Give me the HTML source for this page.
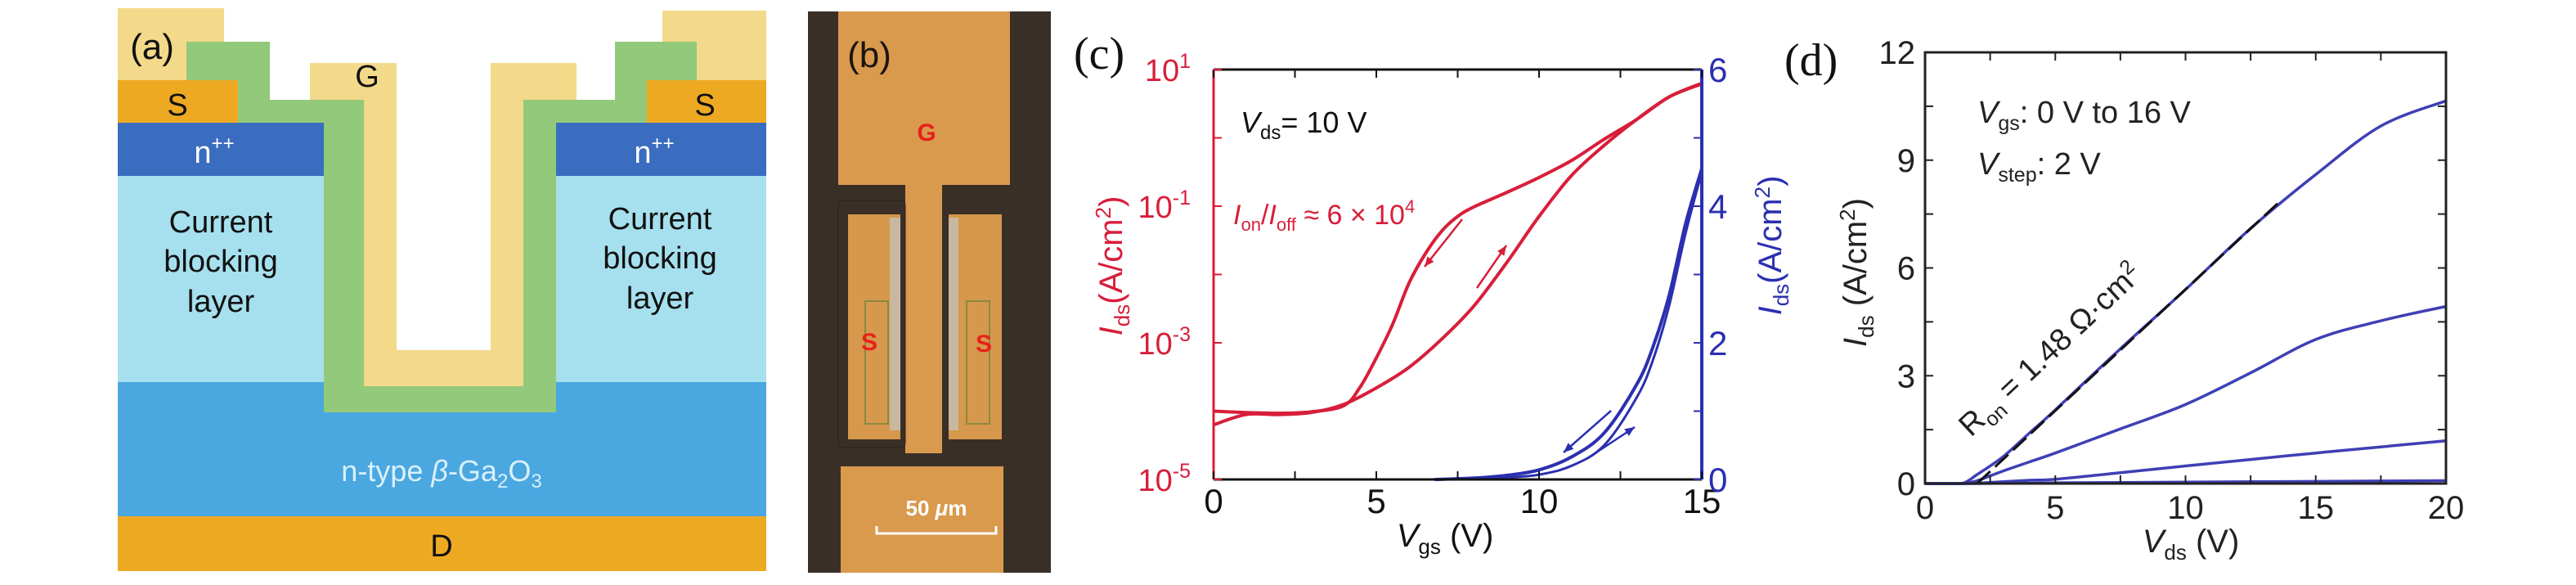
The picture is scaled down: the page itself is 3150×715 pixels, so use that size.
<!DOCTYPE html>
<html><head><meta charset="utf-8">
<style>
html,body{margin:0;padding:0;background:#fff;}
svg{display:block;}
.n{font-family:"Liberation Sans Narrow","Liberation Sans",sans-serif;}
.s{font-family:"Liberation Sans",sans-serif;}
.serif{font-family:"Liberation Serif",serif;}
</style></head>
<body>
<svg id="fig" width="3150" height="715" viewBox="0 0 3150 715" xmlns="http://www.w3.org/2000/svg">
<!-- Panel (a) -->
<g>
  <rect x="144" y="10" width="130" height="90" fill="#f3d98a"/>
  <rect x="810" y="13" width="127" height="87" fill="#f3d98a"/>
  <rect x="228" y="51" width="102" height="99" fill="#93c97a"/>
  <rect x="330" y="122" width="115" height="28" fill="#93c97a"/>
  <rect x="640" y="122" width="112" height="28" fill="#93c97a"/>
  <rect x="752" y="51" width="100" height="99" fill="#93c97a"/>
  <rect x="396" y="122" width="284" height="382" fill="#93c97a"/>
  <polygon points="379,77 485,77 485,428 600,428 600,77 705,77 705,122 640,122 640,472 445,472 445,122 379,122" fill="#f3d98a"/>
  <rect x="485" y="0" width="115" height="428" fill="#ffffff"/>
  <rect x="144" y="98" width="147" height="52" fill="#eea923"/>
  <rect x="791" y="98" width="146" height="52" fill="#eea923"/>
  <rect x="144" y="150" width="252" height="65" fill="#3a6cbf"/>
  <rect x="680" y="150" width="257" height="65" fill="#3a6cbf"/>
  <rect x="144" y="215" width="252" height="252" fill="#a6e0ee"/>
  <rect x="680" y="215" width="257" height="252" fill="#a6e0ee"/>
  <path d="M144,467 H396 V504 H680 V467 H937 V631 H144 Z" fill="#4aa7e0"/>
  <rect x="144" y="631" width="793" height="67" fill="#eea923"/>
  <g class="n" font-size="38" text-anchor="middle" fill="#111">
    <text x="217" y="141">S</text>
    <text x="862" y="141">S</text>
    <text x="449" y="106">G</text>
    <text x="540" y="680">D</text>
    <text x="270" y="284">Current</text>
    <text x="270" y="332">blocking</text>
    <text x="270" y="381">layer</text>
    <text x="807" y="280">Current</text>
    <text x="807" y="328">blocking</text>
    <text x="807" y="377">layer</text>
    <text x="186" y="72" font-size="44">(a)</text>
  </g>
  <g class="n" font-size="38" fill="#fff" text-anchor="middle">
    <text x="262" y="199">n<tspan font-size="24" dy="-16">++</tspan></text>
    <text x="800" y="199">n<tspan font-size="24" dy="-16">++</tspan></text>
  </g>
  <text class="n" x="540" y="588" font-size="36" fill="#d8f0fb" text-anchor="middle">n-type <tspan font-style="italic">β</tspan>-Ga<tspan font-size="24" dy="8">2</tspan><tspan dy="-8">O</tspan><tspan font-size="24" dy="8">3</tspan></text>
</g>

<!-- Panel (b) -->
<g>
  <rect x="988" y="14" width="297" height="686" fill="#3a2f27"/>
  <rect x="1025" y="14" width="210" height="212" fill="#d99a4e"/>
  <rect x="1107" y="220" width="45" height="334" fill="#d99a4e"/>
  <rect x="1025" y="245" width="82" height="302" rx="6" fill="#3a2f27" stroke="#2b221c"/>
  <rect x="1037" y="262" width="64" height="275" fill="#d6984c"/>
  <rect x="1088" y="266" width="13" height="260" fill="#c8b8a0"/>
  <rect x="1058" y="368" width="28" height="150" fill="none" stroke="#8a8a40" stroke-width="2"/>
  <rect x="1152" y="245" width="86" height="302" rx="6" fill="#3a2f27"/>
  <rect x="1160" y="262" width="65" height="275" fill="#d6984c"/>
  <rect x="1160" y="266" width="12" height="260" fill="#c8b8a0"/>
  <rect x="1182" y="368" width="28" height="150" fill="none" stroke="#8a8a40" stroke-width="2"/>
  <rect x="1028" y="570" width="199" height="130" fill="#d99a4e"/>
  <g class="s" font-weight="bold" fill="#e8201c" text-anchor="middle" font-size="30">
    <text x="1133" y="172">G</text>
    <text x="1063" y="428">S</text>
    <text x="1203" y="430">S</text>
  </g>
  <text class="s" x="1063" y="82" font-size="44" fill="#1a1410" text-anchor="middle">(b)</text>
  <text class="s" x="1145" y="630" font-size="26" font-weight="bold" fill="#fff" text-anchor="middle">50 <tspan font-style="italic">μ</tspan>m</text>
  <path d="M1072,643 V652 H1218 V643" stroke="#fff" stroke-width="3" fill="none"/>
</g>

<g id="panelC"></g>
<g id="panelD"></g>
</svg>
<script>
// ---------- Panel (c) data ----------
const cVgsFwd = [0,1,2,3,4,5,6,7,8,9,10,11,12,13,14,15];
const cLogFwd = [-4.2,-4.05,-4.05,-4.02,-3.9,-3.66,-3.36,-2.95,-2.46,-1.83,-1.15,-0.55,-0.11,0.27,0.6,0.79];
const cVgsRev = [0,1,2,3,4,4.5,5,5.5,6,6.5,7,7.5,8,9,10,11,12,13,14,15];
const cLogRev = [-4.0,-4.02,-4.03,-4.01,-3.92,-3.65,-3.22,-2.73,-2.13,-1.7,-1.37,-1.15,-1.01,-0.8,-0.58,-0.33,-0.02,0.27,0.6,0.8];
const cVgsLin = [6.8,8,9,10,11,12,13,13.5,14,14.5,15];
const cLinA = [0,0.02,0.06,0.14,0.33,0.68,1.39,1.94,2.7,3.74,4.55];
const cLinB = [0,0.01,0.03,0.07,0.2,0.5,1.2,1.75,2.55,3.6,4.5];
const cXTicks = [0,5,10,15];
const cLogTicks = [1,-1,-3,-5];
const cRightTicks = [0,2,4,6];

// ---------- Panel (d) data ----------
const dVds = [0,1,1.5,2,3,4,5,7.5,10,12.5,15,17.5,20];
const dI16 = [0,0,0.02,0.25,0.75,1.4,2.05,3.75,5.4,7.1,8.6,9.95,10.65];
const dI14 = [0,0,0.01,0.08,0.35,0.6,0.85,1.52,2.2,3.08,4.01,4.53,4.93];
const dI12 = [0,0,0,0.01,0.05,0.09,0.12,0.3,0.49,0.67,0.85,1.02,1.19];
const dI10 = [0,0,0,0,0.01,0.01,0.02,0.03,0.04,0.05,0.06,0.07,0.08];
const dFitV = [2,13.6];
const dRon = 1.48;
const dXTicks = [0,5,10,15,20];
const dYTicks = [0,3,6,9,12];

const NS = "http://www.w3.org/2000/svg";
function mk(tag, attrs, parent){const e=document.createElementNS(NS,tag);for(const k in attrs)e.setAttribute(k,attrs[k]);parent.appendChild(e);return e;}
function pathD(xs, ys, fx, fy){return xs.map((x,i)=>(i?'L':'M')+fx(x).toFixed(1)+','+fy(ys[i]).toFixed(1)).join(' ');}
function smoothD(xs, ys, fx, fy){
  const P=xs.map((x,i)=>[fx(x),fy(ys[i])]);
  let d='M'+P[0][0].toFixed(1)+','+P[0][1].toFixed(1);
  for(let i=0;i<P.length-1;i++){
    const p0=P[i-1]||P[i],p1=P[i],p2=P[i+1],p3=P[i+2]||p2;
    const c1=[p1[0]+(p2[0]-p0[0])/6,p1[1]+(p2[1]-p0[1])/6];
    const c2=[p2[0]-(p3[0]-p1[0])/6,p2[1]-(p3[1]-p1[1])/6];
    d+=` C${c1[0].toFixed(1)},${c1[1].toFixed(1)} ${c2[0].toFixed(1)},${c2[1].toFixed(1)} ${p2[0].toFixed(1)},${p2[1].toFixed(1)}`;
  }
  return d;
}

// ---- Panel C ----
(function(){
  const g=document.getElementById('panelC');
  const L=1484,R=2081,T=85,B=586;
  const fx=v=>L+(v/15)*(R-L);
  const fyLog=e=>T+(1-e)/6*(B-T);
  const fyLin=v=>B-(v/6)*(B-T);
  const red="#d81e3a", blue="#2b2fb0";
  let p=mk('path',{d:smoothD(cVgsFwd,cLogFwd,fx,fyLog),stroke:red,'stroke-width':4,fill:'none'},g);
  
  
  p=mk('path',{d:smoothD(cVgsRev,cLogRev,fx,fyLog),stroke:red,'stroke-width':4,fill:'none'},g);
  
  
  p=mk('path',{d:smoothD(cVgsLin,cLinA,fx,fyLin),stroke:blue,'stroke-width':4,fill:'none'},g);
  
  
  p=mk('path',{d:smoothD(cVgsLin,cLinB,fx,fyLin),stroke:blue,'stroke-width':3,fill:'none'},g);
  
  
  const arrows=[[1788,268,1742,326,red],[1806,352,1842,300,red],[1970,502,1912,553,blue],[1940,561,1999,522,blue]];
  arrows.forEach(a=>{
    const ln=mk('line',{x1:a[0],y1:a[1],x2:a[2],y2:a[3],stroke:a[4],'stroke-width':2.5},g);
    
    
    const ang=Math.atan2(a[3]-a[1],a[2]-a[0]);
    const s=13,x=a[2],y=a[3];
    const hd=mk('polygon',{points:`${x},${y} ${x-s*Math.cos(ang-0.4)},${y-s*Math.sin(ang-0.4)} ${x-s*Math.cos(ang+0.4)},${y-s*Math.sin(ang+0.4)}`,fill:a[4]},g);
    
    
  });
  let ax=mk('line',{x1:L,y1:T,x2:R,y2:T,stroke:'#111','stroke-width':3},g);
   
  ax=mk('line',{x1:L,y1:B,x2:R,y2:B,stroke:'#111','stroke-width':3},g);
   
  ax=mk('line',{x1:L,y1:T,x2:L,y2:B,stroke:red,'stroke-width':3},g);
   
  ax=mk('line',{x1:R,y1:T,x2:R,y2:B,stroke:blue,'stroke-width':4},g);
   
  for(let v=0;v<=15;v+=2.5){
    const t=mk('line',{x1:fx(v),y1:B,x2:fx(v),y2:B-10,stroke:'#111','stroke-width':2},g);
     
    const t2=mk('line',{x1:fx(v),y1:T,x2:fx(v),y2:T+10,stroke:'#111','stroke-width':2},g);
     
  }
  cXTicks.forEach(v=>{
    const t=mk('text',{x:fx(v),y:627,'font-size':42,'text-anchor':'middle',fill:'#111',class:'n'},g);
    t.textContent=v;
     
  });
  for(let e=1;e>=-5;e--){
    const t=mk('line',{x1:L,y1:fyLog(e),x2:L+10,y2:fyLog(e),stroke:red,'stroke-width':2},g);
     
  }
  cLogTicks.forEach(e=>{
    const t=mk('text',{x:L-28,y:fyLog(e)+14,'font-size':38,'text-anchor':'end',fill:red,class:'n'},g);
    t.textContent='10';
    const sp=mk('tspan',{'font-size':25,dy:-16},t); sp.textContent=String(e);
     
  });
  for(let v=0;v<=6;v++){
    const t=mk('line',{x1:R,y1:fyLin(v),x2:R-10,y2:fyLin(v),stroke:blue,'stroke-width':2},g);
     
  }
  cRightTicks.forEach(v=>{
    const t=mk('text',{x:R+8,y:fyLin(v)+15,'font-size':42,fill:blue,class:'n'},g);
    t.textContent=v;
     
  });
  g.insertAdjacentHTML('beforeend',
   `<text class="serif" x="1313" y="84" font-size="56" fill="#111">(c)</text>
    <text class="n" x="1517" y="162" font-size="36" fill="#111"><tspan font-style="italic">V</tspan><tspan font-size="24" dy="8">ds</tspan><tspan dy="-8">= 10 V</tspan></text>
    <text class="n" x="1508" y="274" font-size="34" fill="${red}"><tspan font-style="italic">I</tspan><tspan font-size="22" dy="8">on</tspan><tspan dy="-8">/</tspan><tspan font-style="italic">I</tspan><tspan font-size="22" dy="8">off</tspan><tspan dy="-8"> ≈ 6 × 10</tspan><tspan font-size="22" dy="-14">4</tspan></text>
    <text class="n" x="1767" y="668" font-size="40" fill="#111" text-anchor="middle"><tspan font-style="italic">V</tspan><tspan font-size="26" dy="9">gs</tspan><tspan dy="-9"> (V)</tspan></text>
    <text class="n" transform="translate(1372,325) rotate(-90)" font-size="40" fill="${red}" text-anchor="middle"><tspan font-style="italic">I</tspan><tspan font-size="26" dy="9">ds</tspan><tspan dy="-9">(A/cm</tspan><tspan font-size="26" dy="-14">2</tspan><tspan dy="14">)</tspan></text>
    <text class="n" transform="translate(2178,300) rotate(-90)" font-size="40" fill="${blue}" text-anchor="middle"><tspan font-style="italic">I</tspan><tspan font-size="26" dy="9">ds</tspan><tspan dy="-9">(A/cm</tspan><tspan font-size="26" dy="-14">2</tspan><tspan dy="14">)</tspan></text>`);
})();

// ---- Panel D ----
(function(){
  const g=document.getElementById('panelD');
  const L=2354,R=2991,T=64,B=591;
  const fx=v=>L+(v/20)*(R-L);
  const fy=v=>B-(v/12)*(B-T);
  const blue="#3f3fb5";
  [[dI16,'curve-vgs-16'],[dI14,'curve-vgs-14'],[dI12,'curve-vgs-12'],[dI10,'curve-vgs-10']].forEach(c=>{
    const p=mk('path',{d:smoothD(dVds,c[0],fx,fy),stroke:blue,'stroke-width':3.5,fill:'none'},g);
    
    
  });
  const fitI=dFitV.map(v=>(v-dFitV[0])/dRon);
  const fp=mk('path',{d:pathD(dFitV,fitI,fx,fy),stroke:'#111','stroke-width':3,'stroke-dasharray':'22 8',fill:'none'},g);
  
  
  let ax=mk('rect',{x:L,y:T,width:R-L,height:B-T,fill:'none',stroke:'#222','stroke-width':3},g);
   
  for(let v=0;v<=20;v+=2.5){
    const t=mk('line',{x1:fx(v),y1:B,x2:fx(v),y2:B-10,stroke:'#222','stroke-width':2},g);
     
    const t2=mk('line',{x1:fx(v),y1:T,x2:fx(v),y2:T+10,stroke:'#222','stroke-width':2},g);
     
  }
  for(let v=0;v<=12;v+=1.5){
    const t=mk('line',{x1:L,y1:fy(v),x2:L+10,y2:fy(v),stroke:'#222','stroke-width':2},g);
     
    const t2=mk('line',{x1:R,y1:fy(v),x2:R-10,y2:fy(v),stroke:'#222','stroke-width':2},g);
     
  }
  dXTicks.forEach(v=>{
    const t=mk('text',{x:fx(v),y:634,'font-size':40,'text-anchor':'middle',fill:'#222',class:'n'},g);
    t.textContent=v;
     
  });
  dYTicks.forEach(v=>{
    const t=mk('text',{x:L-12,y:fy(v)+14,'font-size':40,'text-anchor':'end',fill:'#222',class:'n'},g);
    t.textContent=v;
     
  });
  g.insertAdjacentHTML('beforeend',
   `<text class="serif" x="2182" y="92" font-size="56" fill="#111">(d)</text>
    <text class="n" x="2418" y="150" font-size="38" fill="#222"><tspan font-style="italic">V</tspan><tspan font-size="25" dy="9">gs</tspan><tspan dy="-9">: 0 V to 16 V</tspan></text>
    <text class="n" x="2418" y="213" font-size="38" fill="#222"><tspan font-style="italic">V</tspan><tspan font-size="25" dy="9">step</tspan><tspan dy="-9">: 2 V</tspan></text>
    <text class="n" transform="translate(2410,535) rotate(-43)" font-size="38" fill="#222">R<tspan font-size="25" dy="9">on</tspan><tspan dy="-9"> = 1.48 Ω·cm</tspan><tspan font-size="25" dy="-14">2</tspan></text>
    <text class="n" x="2679" y="675" font-size="40" fill="#222" text-anchor="middle"><tspan font-style="italic">V</tspan><tspan font-size="26" dy="9">ds</tspan><tspan dy="-9"> (V)</tspan></text>
    <text class="n" transform="translate(2282,333) rotate(-90)" font-size="40" fill="#222" text-anchor="middle"><tspan font-style="italic">I</tspan><tspan font-size="26" dy="9">ds</tspan><tspan dy="-9"> (A/cm</tspan><tspan font-size="26" dy="-14">2</tspan><tspan dy="14">)</tspan></text>`);
})();
</script>
</body></html>
